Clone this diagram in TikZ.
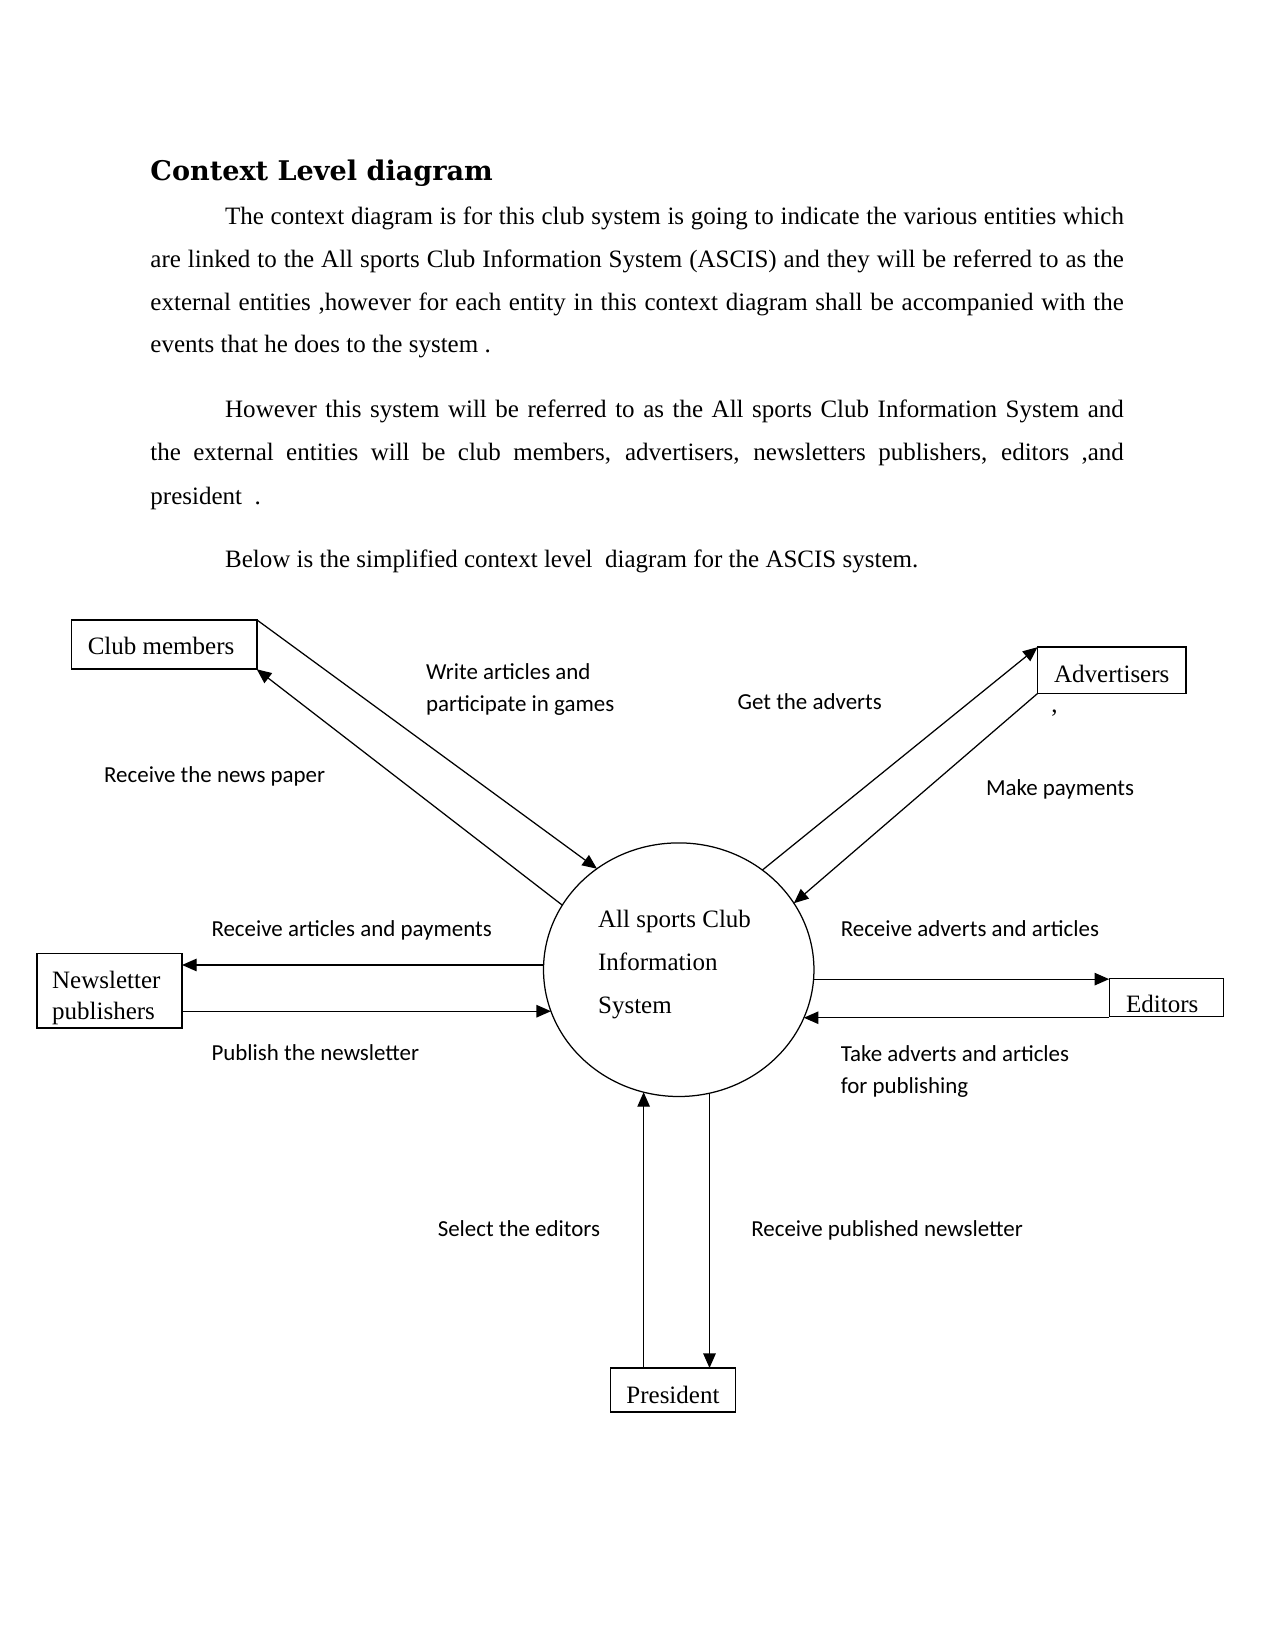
\documentclass[tikz,border=0pt]{standalone}
\usepackage{fontspec}
\setmainfont{Liberation Serif}
\newfontfamily\headfont{DejaVu Serif}
\newfontfamily\flowfont{Carlito}
\usepackage{tikz}
\usetikzlibrary{positioning, arrows.meta, shapes.geometric}

\newcommand{\px}{0.505pt}
\newcommand{\nudge}[2]{\raisebox{#1}[\height][\depth]{#2}}

\begin{document}
\begin{tikzpicture}[
    x=\px, y=-\px, % page pixels, y going down
    every node/.style={inner sep=0pt, outer sep=0pt},
    para/.style={anchor=base west, font=\fontsize{12pt}{14pt}\selectfont},
    entity/.style={draw, line width=0.8pt, font=\fontsize{12pt}{15pt}\selectfont},
    flow/.style={anchor=base west, align=left, font=\flowfont\fontsize{11pt}{15.4pt}\selectfont},
    flowline/.style={-{Triangle[length=7pt, width=6pt]}, line width=0.6pt}
]
    \useasboundingbox (0,0) rectangle (1212,1568);

    % Heading and the text above the diagram
    \node[para, font=\headfont\bfseries\fontsize{13pt}{16pt}\selectfont] (title) at (143,172) {Context Level diagram};
    \node[para] (t1) at (214,213) {\makebox[431.3pt][s]{The context diagram is for this club system is going to indicate the various entities which}};
    \node[para] (t2) at (143,254) {\makebox[467.1pt][s]{are linked to the All sports Club Information System (ASCIS) and they will be referred to as the}};
    \node[para] (t3) at (143,295) {\makebox[467.1pt][s]{external entities ,however for each entity in this context diagram shall be accompanied with the}};
    \node[para] (t4) at (143,335) {events that he does to the system .};
    \node[para] (t5) at (214,397) {\makebox[431.3pt][s]{However this system will be referred to as the All sports Club Information System and}};
    \node[para] (t6) at (143,438) {\makebox[467.1pt][s]{the external entities will be club members, advertisers, newsletters publishers, editors ,and}};
    \node[para] (t7) at (143,479) {president \ .};
    \node[para] (t8) at (214,539) {Below is the simplified context level \ diagram for the ASCIS system.};

    % The system and the external entities
    \node[ellipse, draw, line width=0.6pt, minimum width=257*\px, minimum height=241*\px,
          font=\fontsize{12pt}{20.7pt}\selectfont] (sys) at (645,921.5)
          {\nudge{3.6pt}{\begin{tabular}{@{}l@{}}All sports Club\\Information\\System\end{tabular}}\hspace*{4pt}};
    \node[entity, minimum width=176*\px, minimum height=47*\px] (club) at (156,612.5) {\nudge{-0.9pt}{Club members}\hspace*{3pt}};
    \node[entity, minimum width=141*\px, minimum height=44*\px] (adv) at (1056.5,637) {\nudge{-1.6pt}{Advertisers}};
    \node[para] (comma) at (999,677) {,};
    \node[entity, minimum width=138*\px, minimum height=71*\px] (pub) at (104,941.5)
          {\nudge{-3.2pt}{\begin{tabular}{@{}l@{}}Newsletter\\publishers\end{tabular}}\hspace*{3pt}};
    \node[entity, line width=0.5pt, minimum width=109*\px, minimum height=36*\px] (edit) at (1108.5,948) {\nudge{-3pt}{Editors}\hspace*{4pt}};
    \node[entity, minimum width=119*\px, minimum height=42*\px] (pres) at (639.5,1321) {\nudge{-2.2pt}{President}};

    % Labels of the flows
    \node[flow] (write) at (405,676) {Write articles and\\participate in games};
    \node[flow] (get) at (701,674) {Get the adverts};
    \node[flow] (news) at (99,744) {Receive the news paper};
    \node[flow] (pay) at (937,756) {Make payments};
    \node[flow] (recart) at (201,890) {Receive articles and payments};
    \node[flow] (recadv) at (799,890) {Receive adverts and articles};
    \node[flow] (publish) at (201,1008) {Publish the newsletter};
    \node[flow] (take) at (799,1039) {Take adverts and articles\\for publishing};
    \node[flow] (select) at (416,1175) {Select the editors};
    \node[flow] (recpub) at (714,1175) {Receive published newsletter};

    % Data flows
    \draw[flowline] (club.north east) -- (sys.129);
    \draw[flowline] (sys.151) -- (club.south east);
    \draw[flowline] (sys.50) -- (adv.north west);
    \draw[flowline] (adv.south west) -- (sys.30);
    \draw[flowline] (sys.178) -- (sys.178 -| pub.east);
    \draw[flowline] (sys.198 -| pub.east) -- (sys.198);
    \draw[flowline] (sys.356) -- (sys.356 -| edit.west);
    \draw[flowline] (sys.339 -| edit.west) -- (sys.339);
    \draw[flowline] (sys.254 |- pres.north) -- (sys.254);
    \draw[flowline] (sys.284) -- (sys.284 |- pres.north);
\end{tikzpicture}
\end{document}
